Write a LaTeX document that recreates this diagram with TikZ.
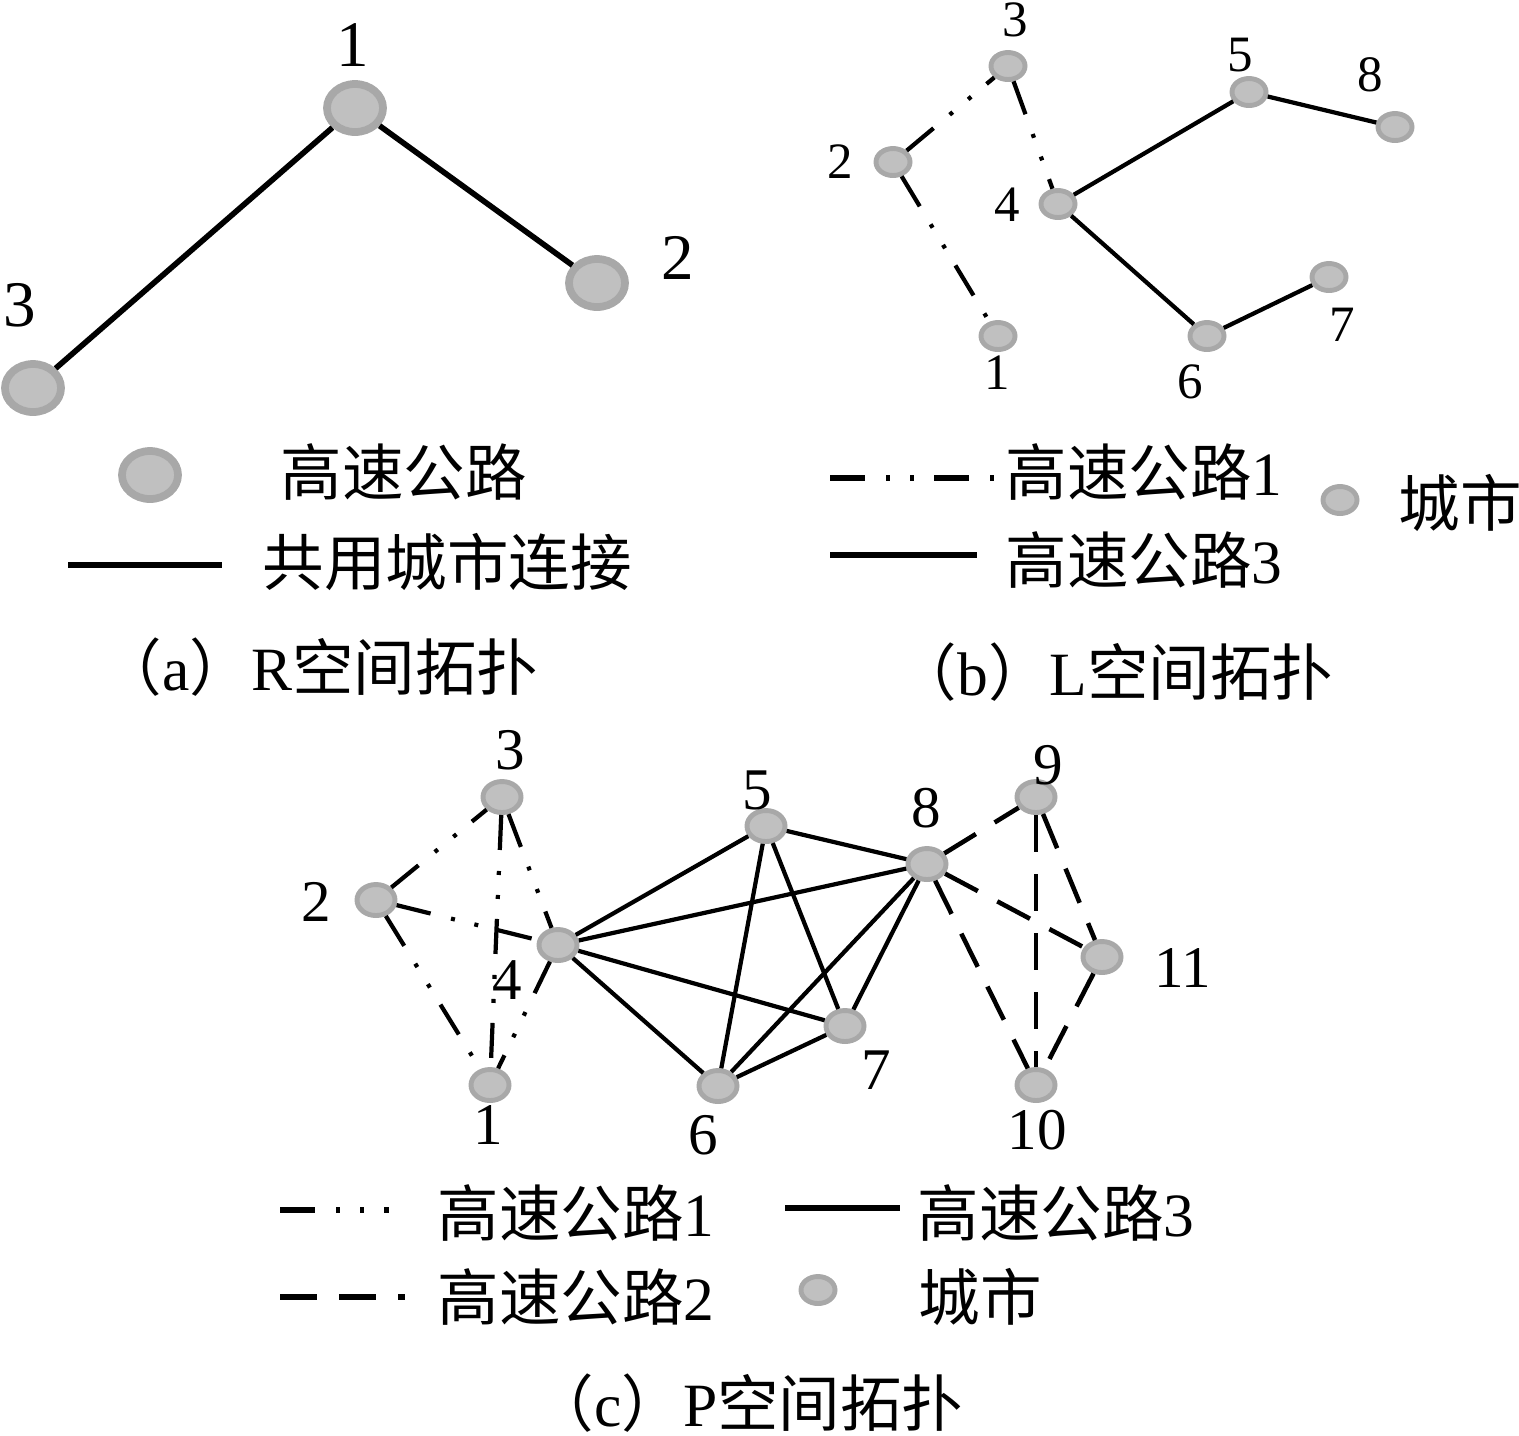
\documentclass[tikz,border=0pt]{standalone}
\usepackage{fontspec}
\setmainfont{Liberation Serif}
\newfontfamily\cjk{Noto Sans CJK SC}
\usetikzlibrary{shapes.geometric}
\definecolor{citygray}{HTML}{C0C0C0}
\definecolor{cityrim}{HTML}{A8A8A8}
\tikzset{
  city/.style={ellipse, fill=citygray, draw=cityrim, inner sep=0pt},
  bigcity/.style={city, line width=2.2pt, minimum width=0.56cm, minimum height=0.48cm},
  smallcity/.style={city, line width=1.4pt, minimum width=0.34cm, minimum height=0.27cm},
  midcity/.style={city, line width=1.4pt, minimum width=0.38cm, minimum height=0.31cm},
  numa/.style={font=\fontsize{18.5}{20}\selectfont, inner sep=0pt},
  numb/.style={font=\fontsize{14.5}{16}\selectfont, inner sep=0pt},
  numc/.style={font=\fontsize{16.8}{18}\selectfont, inner sep=0pt},
  legtext/.style={anchor=west, inner sep=0pt, font=\fontsize{17.5}{20}\selectfont},
  link/.style={line width=1.6pt},
  keyline/.style={line width=1.8pt},
  hwayone/.style={line width=1.2pt, dash pattern=on 0.35cm off 0.21cm on 0.04cm off 0.2cm on 0.04cm off 0.2cm},
  hwaytwo/.style={line width=1.3pt, dash pattern=on 0.37cm off 0.22cm},
  hwaythree/.style={line width=1.2pt}
}
\begin{document}
\begin{tikzpicture}[x=0.01cm, y=-0.01cm]
\useasboundingbox (0,0) rectangle (1519,1435);
\node[bigcity] (a1) at (355,108) {};
\node[bigcity] (a2) at (597,283) {};
\node[bigcity] (a3) at (33,388) {};
\node[numa] (la1) at (353,45) {1};
\node[numa] (la2) at (678,258) {2};
\node[numa] (la3) at (20,305) {3};
\draw[link] (a1) -- (a2);
\draw[link] (a1) -- (a3);
\node[bigcity] (akeycity) at (150,475) {};
\node[legtext] (akeycitytext) at (280,472) {\cjk 高速公路};
\coordinate (akeyl) at (68,565);
\coordinate (akeyr) at (222,565);
\draw[keyline] (akeyl) -- (akeyr);
\node[legtext] (akeylinetext) at (262,562) {\cjk 共用城市连接};
\node[legtext] (acap) at (100,667) {{\cjk （}a{\cjk ）}R{\cjk 空间拓扑}};
\node[smallcity] (b1) at (998,336) {};
\node[smallcity] (b2) at (893,162) {};
\node[smallcity] (b3) at (1008,66) {};
\node[smallcity] (b4) at (1058,204) {};
\node[smallcity] (b5) at (1249,92) {};
\node[smallcity] (b6) at (1207,336) {};
\node[smallcity] (b7) at (1329,277) {};
\node[smallcity] (b8) at (1395,127) {};
\node[numb] (lb1) at (997,373) {1};
\node[numb] (lb2) at (840,162) {2};
\node[numb] (lb3) at (1015,20) {3};
\node[numb] (lb4) at (1007,205) {4};
\node[numb] (lb5) at (1240,55) {5};
\node[numb] (lb6) at (1190,382) {6};
\node[numb] (lb7) at (1342,325) {7};
\node[numb] (lb8) at (1370,75) {8};
\draw[hwayone] (b2) -- (b3);
\draw[hwayone] (b3) -- (b4);
\draw[hwayone] (b2) -- (b1);
\draw[hwaythree] (b4) -- (b5);
\draw[hwaythree] (b5) -- (b8);
\draw[hwaythree] (b4) -- (b6);
\draw[hwaythree] (b6) -- (b7);
\coordinate (bkeyal) at (830,478);
\coordinate (bkeyar) at (998,478);
\draw[hwayone, line width=1.8pt] (bkeyal) -- (bkeyar);
\node[legtext] (bkeyatext) at (1005,472) {{\cjk 高速公路}1};
\coordinate (bkeybl) at (830,555);
\coordinate (bkeybr) at (977,555);
\draw[keyline] (bkeybl) -- (bkeybr);
\node[legtext] (bkeybtext) at (1005,560) {{\cjk 高速公路}3};
\node[smallcity] (bkeycity) at (1340,500) {};
\node[legtext] (bkeycitytext) at (1398,503) {\cjk 城市};
\node[legtext] (bcap) at (895,672) {{\cjk （}b{\cjk ）}L{\cjk 空间拓扑}};
\node[midcity] (c1) at (490,1085) {};
\node[midcity] (c2) at (376,900) {};
\node[midcity] (c3) at (502,797) {};
\node[midcity] (c4) at (558,945) {};
\node[midcity] (c5) at (766,826) {};
\node[midcity] (c6) at (718,1086) {};
\node[midcity] (c7) at (845,1026) {};
\node[midcity] (c8) at (927,864) {};
\node[midcity] (c9) at (1036,797) {};
\node[midcity] (c10) at (1036,1085) {};
\node[midcity] (c11) at (1102,957) {};
\node[numc] (lc1) at (488,1125) {1};
\node[numc] (lc2) at (316,902) {2};
\node[numc] (lc3) at (510,750) {3};
\node[numc] (lc4) at (507,980) {4};
\node[numc] (lc5) at (757,790) {5};
\node[numc] (lc6) at (703,1135) {6};
\node[numc] (lc7) at (876,1070) {7};
\node[numc] (lc8) at (926,808) {8};
\node[numc] (lc9) at (1048,765) {9};
\node[numc] (lc10) at (1037,1130) {10};
\node[numc] (lc11) at (1183,968) {11};
\foreach \s/\t in {c2/c3,c2/c4,c2/c1,c3/c4,c3/c1,c4/c1}
  \draw[hwayone] (\s) -- (\t);
\foreach \s/\t in {c4/c5,c4/c8,c4/c7,c4/c6,c5/c8,c5/c6,c5/c7,c8/c6,c8/c7,c6/c7}
  \draw[hwaythree] (\s) -- (\t);
\foreach \s/\t in {c8/c9,c8/c11,c8/c10,c9/c10,c9/c11,c11/c10}
  \draw[hwaytwo] (\s) -- (\t);
\coordinate (ckeyal) at (280,1210);
\coordinate (ckeyar) at (389,1210);
\draw[hwayone, line width=1.8pt] (ckeyal) -- (ckeyar);
\node[legtext] (ckeyatext) at (437,1213) {{\cjk 高速公路}1};
\coordinate (ckeycl) at (785,1208);
\coordinate (ckeycr) at (900,1208);
\draw[keyline] (ckeycl) -- (ckeycr);
\node[legtext] (ckeyctext) at (917,1213) {{\cjk 高速公路}3};
\coordinate (ckeybl) at (280,1297);
\coordinate (ckeybr) at (405,1297);
\draw[hwaytwo, line width=1.8pt] (ckeybl) -- (ckeybr);
\node[legtext] (ckeybtext) at (437,1297) {{\cjk 高速公路}2};
\node[smallcity] (ckeycity) at (818,1290) {};
\node[legtext] (ckeycitytext) at (918,1297) {\cjk 城市};
\node[legtext] (ccap) at (532,1403) {{\cjk （}c{\cjk ）}P{\cjk 空间拓扑}};
\end{tikzpicture}
\end{document}
